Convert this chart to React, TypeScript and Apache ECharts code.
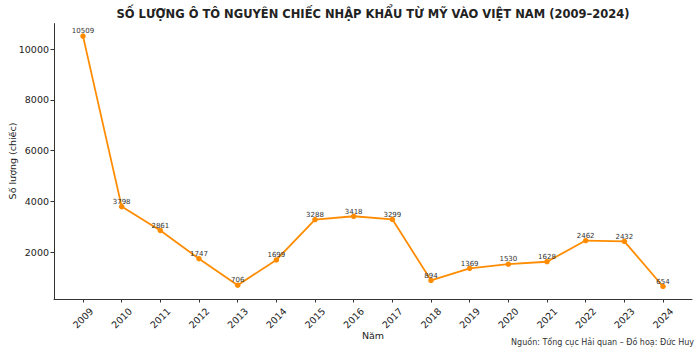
import React, { useEffect, useRef } from "react";
import * as echarts from "echarts";

const years = [2009, 2010, 2011, 2012, 2013, 2014, 2015, 2016, 2017, 2018, 2019, 2020, 2021, 2022, 2023, 2024];
const values = [10509, 3798, 2861, 1747, 706, 1699, 3288, 3418, 3299, 894, 1369, 1530, 1628, 2462, 2432, 654];
const yTicks = [2000, 4000, 6000, 8000, 10000];

const titleText = "SỐ LƯỢNG Ô TÔ NGUYÊN CHIẾC NHẬP KHẨU TỪ MỸ VÀO VIỆT NAM (2009–2024)";
const yName = "Số lượng (chiếc)";
const xName = "Năm";
const sourceText = "Nguồn: Tổng cục Hải quan – Đồ hoạ: Đức Huy";

const FONT = "DejaVu Sans";

export default function App() {
  const ref = useRef<HTMLDivElement>(null);
  useEffect(() => {
    if (!ref.current) return;
    const chart = echarts.init(ref.current, null, { renderer: "svg" });
    const axisColor = "#333";
    chart.setOption({
      animation: false,
      backgroundColor: "#fff",
      textStyle: { fontFamily: FONT },
      grid: { left: 54, right: 8, top: 23.6, bottom: 54, outerBoundsMode: "none" },
      xAxis: {
        type: "value",
        min: 2008.25,
        max: 2024.75,
        splitLine: { show: false },
        axisLine: { show: true, onZero: false, lineStyle: { color: axisColor, width: 1 } },
        axisTick: { show: true, length: 3.5, customValues: years, lineStyle: { color: axisColor } },
        axisLabel: {
          customValues: years,
          formatter: (v: number) => String(v),
          rotate: 45,
          align: "center",
          verticalAlign: "middle",
          margin: 19,
          fontSize: 9.5,
          color: "#222",
          fontFamily: FONT,
        },
      },
      yAxis: {
        type: "value",
        min: 161,
        max: 11002,
        splitLine: { show: false },
        axisLine: { show: true, onZero: false, lineStyle: { color: axisColor, width: 1 } },
        axisTick: { show: true, length: 3.5, customValues: yTicks, lineStyle: { color: axisColor } },
        axisLabel: {
          customValues: yTicks,
          formatter: (v: number) => String(v),
          margin: 5,
          fontSize: 9.5,
          color: "#222",
          fontFamily: FONT,
        },
      },
      series: [
        {
          type: "line",
          data: years.map((y, i) => [y, values[i]]),
          symbol: "circle",
          symbolSize: 5.5,
          itemStyle: { color: "#ff8c00" },
          lineStyle: { color: "#ff8c00", width: 1.8 },
          label: {
            show: true,
            position: "top",
            distance: 1,
            offset: [0, 2.5],
            fontSize: 7,
            color: "#333",
            fontFamily: FONT,
            formatter: (p: any) => String(p.value[1]),
          },
        },
      ],
      graphic: [
        {
          type: "text",
          x: 373,
          y: 14,
          style: {
            text: titleText,
            fontSize: 11.5,
            fontWeight: "bold",
            fontFamily: FONT,
            fill: "#222",
            textAlign: "center",
            textVerticalAlign: "middle",
          },
        },
        {
          type: "text",
          x: 12,
          y: 161,
          rotation: Math.PI / 2,
          style: {
            text: yName,
            fontSize: 9.5,
            fontFamily: FONT,
            fill: "#222",
            textAlign: "center",
            textVerticalAlign: "middle",
          },
        },
        {
          type: "text",
          x: 373,
          y: 335,
          style: {
            text: xName,
            fontSize: 9.5,
            fontFamily: FONT,
            fill: "#222",
            textAlign: "center",
            textVerticalAlign: "middle",
          },
        },
        {
          type: "text",
          x: 694,
          y: 342,
          style: {
            text: sourceText,
            fontSize: 8,
            fontFamily: FONT,
            fill: "#333",
            textAlign: "right",
            textVerticalAlign: "middle",
          },
        },
      ],
    });
    return () => chart.dispose();
  }, []);
  return <div ref={ref} style={{ width: 700, height: 353, position: "absolute", left: 0, top: 0 }} />;
}
